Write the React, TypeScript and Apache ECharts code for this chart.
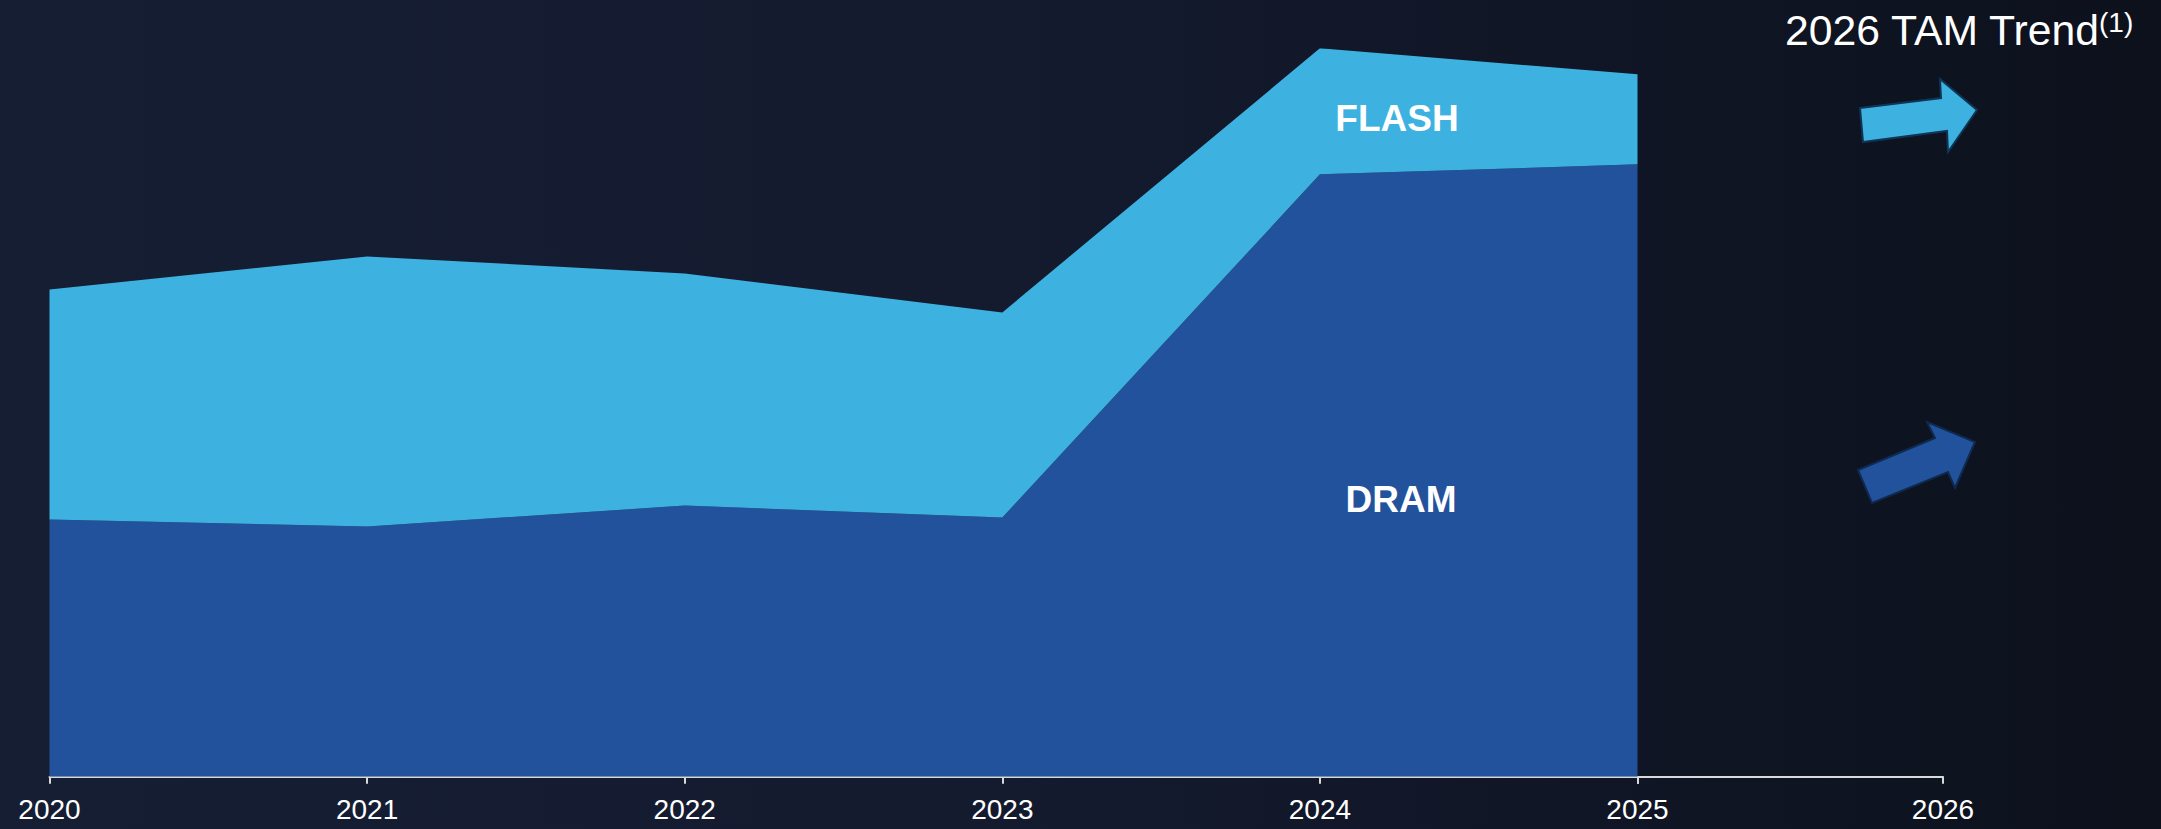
import React, { useEffect, useRef } from "react";
import * as echarts from "echarts";

const years = ["2020", "2021", "2022", "2023", "2024", "2025", "2026"];
const dramValues = [257, 250, 271, 259, 602, 612];
const flashValues = [230, 270, 232, 205, 126, 90];
const yMax = 728;

const FONT = 'Arial, "Liberation Sans", Helvetica, sans-serif';

export default function App() {
  const ref = useRef<HTMLDivElement>(null);

  useEffect(() => {
    if (!ref.current) return;
    const chart = echarts.init(ref.current, undefined, { renderer: "svg" });
    const dataYears = years.slice(0, dramValues.length);
    const tailYears = years.slice(dramValues.length - 1);
    const axisCommon = {
      type: "category",
      boundaryGap: false,
      axisLine: { show: true, lineStyle: { color: "#d9d9d9", width: 2 } },
      axisTick: { show: true, length: 7, alignWithLabel: true, lineStyle: { color: "#d9d9d9", width: 2 } },
      splitLine: { show: false },
    };
    chart.setOption({
      animation: false,
      backgroundColor: "transparent",
      grid: [
        { left: 49.5, right: 523.5, top: 48.3, bottom: 52.3 },
        { left: 1637.5, right: 218, top: 48.3, bottom: 52.3 },
      ],
      xAxis: [
        {
          ...axisCommon,
          gridIndex: 0,
          data: dataYears,
          axisLabel: { color: "#ffffff", fontSize: 28, fontFamily: FONT, margin: 19 },
        },
        {
          ...axisCommon,
          gridIndex: 1,
          data: tailYears,
          axisLabel: {
            color: "#ffffff",
            fontSize: 28,
            fontFamily: FONT,
            margin: 19,
            formatter: (v: string, i: number) => (i === 0 ? "" : v),
          },
        },
      ],
      yAxis: [
        { type: "value", gridIndex: 0, min: 0, max: yMax, show: false, splitLine: { show: false } },
        { type: "value", gridIndex: 1, min: 0, max: yMax, show: false, splitLine: { show: false } },
      ],
      series: [
        {
          name: "DRAM",
          type: "line",
          stack: "tam",
          xAxisIndex: 0,
          yAxisIndex: 0,
          data: dramValues,
          showSymbol: false,
          symbol: "none",
          lineStyle: { width: 0 },
          areaStyle: { color: "#22529b", opacity: 1 },
          z: 2,
        },
        {
          name: "FLASH",
          type: "line",
          stack: "tam",
          xAxisIndex: 0,
          yAxisIndex: 0,
          data: flashValues,
          showSymbol: false,
          symbol: "none",
          lineStyle: { width: 0 },
          areaStyle: { color: "#3db2e0", opacity: 1 },
          z: 2,
        },
      ],
      graphic: [
        {
          type: "text",
          x: 1397,
          y: 118.5,
          z: 10,
          style: {
            text: "FLASH",
            fill: "#ffffff",
            font: `bold 37px ${FONT}`,
            align: "center",
            verticalAlign: "middle",
          },
        },
        {
          type: "text",
          x: 1401,
          y: 499.5,
          z: 10,
          style: {
            text: "DRAM",
            fill: "#ffffff",
            font: `bold 37px ${FONT}`,
            align: "center",
            verticalAlign: "middle",
          },
        },
        {
          type: "text",
          x: 1785,
          y: 30,
          z: 10,
          style: {
            text: "2026 TAM Trend",
            fill: "#ffffff",
            font: `42.7px ${FONT}`,
            align: "left",
            verticalAlign: "middle",
          },
        },
        {
          type: "text",
          x: 2099,
          y: 22,
          z: 10,
          style: {
            text: "(1)",
            fill: "#ffffff",
            font: `28px ${FONT}`,
            align: "left",
            verticalAlign: "middle",
          },
        },
        {
          type: "polygon",
          z: 10,
          shape: {
            points: [
              [1860, 108],
              [1941, 98],
              [1940, 79],
              [1977, 110],
              [1948, 152],
              [1947, 131],
              [1863, 142],
            ],
          },
          style: { fill: "#3db2e0", stroke: "#0e3558", lineWidth: 2 },
        },
        {
          type: "polygon",
          z: 10,
          shape: {
            points: [
              [1858, 470],
              [1935, 438],
              [1927, 422],
              [1975, 442],
              [1955, 488],
              [1948, 472],
              [1872, 503],
            ],
          },
          style: { fill: "#22529b", stroke: "#0e2a50", lineWidth: 2 },
        },
      ],
    });
    return () => chart.dispose();
  }, []);

  return (
    <div
      ref={ref}
      style={{
        position: "fixed",
        left: 0,
        top: 0,
        width: 2161,
        height: 829,
        background: "linear-gradient(to right, #161e34 0%, #141b2f 45%, #0c111c 100%)",
      }}
    />
  );
}
